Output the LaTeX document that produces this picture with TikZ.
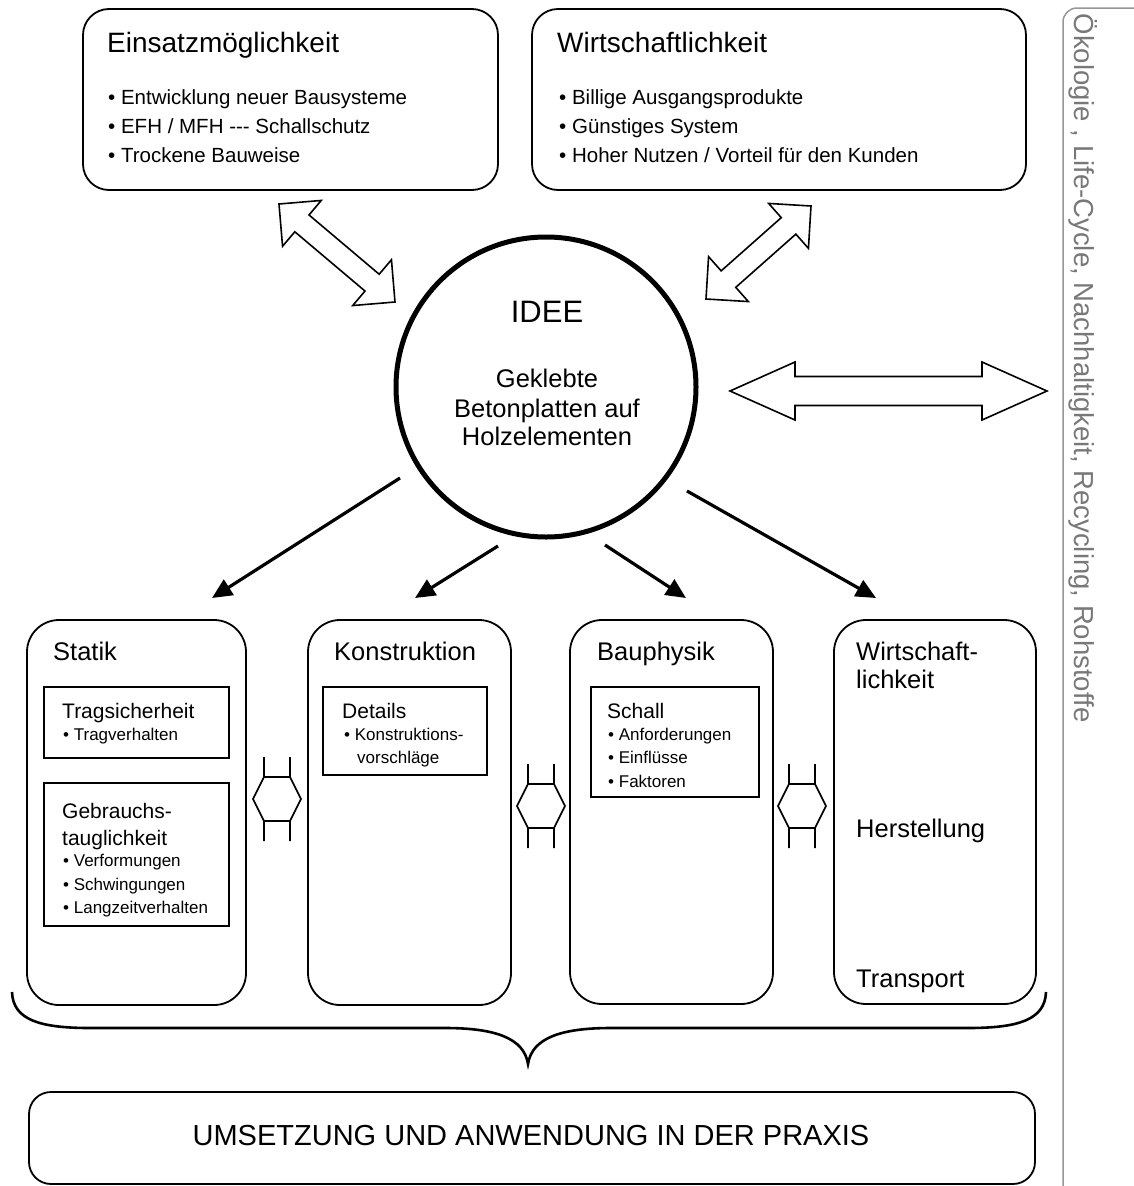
\documentclass[tikz,border=0pt]{standalone}
\usepackage{fontspec}
\setmainfont{Liberation Sans}
\usetikzlibrary{calc,arrows.meta}
\definecolor{ecogray}{RGB}{150,150,150}
\definecolor{ecotext}{RGB}{120,120,120}
\newcommand\fsz[1]{\fontsize{#1}{#1}\selectfont}
% hollow double arrow: #1 tip A, #2 tip B, #3 head length, #4 head half width, #5 shaft half width
\newcommand\hollowarrow[5]{%
\draw[hollowline] (#1)
 -- ($(#1)!#3!(#2)!#4!90:(#2)$)
 -- ($(#1)!#3!(#2)!#5!90:(#2)$)
 -- ($(#2)!#3!(#1)!#5!-90:(#1)$)
 -- ($(#2)!#3!(#1)!#4!-90:(#1)$)
 -- (#2)
 -- ($(#2)!#3!(#1)!#4!90:(#1)$)
 -- ($(#2)!#3!(#1)!#5!90:(#1)$)
 -- ($(#1)!#3!(#2)!#5!-90:(#2)$)
 -- ($(#1)!#3!(#2)!#4!-90:(#2)$)
 -- cycle;}
\begin{document}
\begin{tikzpicture}[x=1pt,y=-1pt,
  bigbox/.style={draw, line width=1.8pt, rounded corners=26pt, inner sep=0pt},
  colbox/.style={draw, line width=1.8pt, rounded corners=32pt, inner sep=0pt},
  subbox/.style={draw, line width=1.8pt, inner sep=0pt},
  txt/.style={anchor=base west, inner sep=0pt},
  ctxt/.style={anchor=base, inner sep=0pt},
  hollowline/.style={draw, line width=1.6pt, line join=miter},
  conn/.style={line width=3.2pt, -{Triangle[length=20pt,width=18pt]}},
  smallda/.pic={
    \draw[line width=1.6pt] (-13,-42) -- (-13,-22) -- (-24,0) -- (-13,22) -- (-13,42);
    \draw[line width=1.6pt] (13,-42) -- (13,-22) -- (24,0) -- (13,22) -- (13,42);
    \draw[line width=1.6pt] (-13,-22) -- (13,-22);
    \draw[line width=1.6pt] (-13,22) -- (13,22);
  }]
\useasboundingbox (0,0) rectangle (1134,1186);

% ---- top boxes
\node[bigbox, minimum width=415pt, minimum height=181pt] (einsatz) at (290.5,99.5) {};
\node[bigbox, minimum width=494pt, minimum height=181pt] (wirt) at (779,99.5) {};

\node[txt] (t1) at (107,52) {\fsz{28}Einsatzmöglichkeit};
\node[txt] (t1a) at (108,104) {\fsz{20.5}• Entwicklung neuer Bausysteme};
\node[txt] (t1b) at (108,133) {\fsz{20.5}• EFH / MFH -{}-{}- Schallschutz};
\node[txt] (t1c) at (108,162) {\fsz{20.5}• Trockene Bauweise};

\node[txt] (t2) at (557,52) {\fsz{28}Wirtschaftlichkeit};
\node[txt] (t2a) at (559,104) {\fsz{20.5}• Billige Ausgangsprodukte};
\node[txt] (t2b) at (559,133) {\fsz{20.5}• Günstiges System};
\node[txt] (t2c) at (559,162) {\fsz{20.5}• Hoher Nutzen / Vorteil für den Kunden};

% ---- gray side frame
\draw[ecogray, line width=1.5pt, rounded corners=14pt] (1063,1186) -- (1063,8) -- (1134,8);
\node[rotate=-90, text=ecotext, inner sep=0pt] (ecotxt) at (1083,368)
  {\fsz{27.5}Ökologie , Life-Cycle, Nachhaltigkeit, Recycling, Rohstoffe};

% ---- circle
\node[draw, circle, line width=5pt, minimum size=300pt, inner sep=0pt] (idee) at (546,387) {};
\node[ctxt] (ideet) at (547,322) {\fsz{31}IDEE};
\node[ctxt] (idee1) at (547,387) {\fsz{25.5}Geklebte};
\node[ctxt] (idee2) at (547,417) {\fsz{25.5}Betonplatten auf};
\node[ctxt] (idee3) at (547,445) {\fsz{25.5}Holzelementen};

% ---- hollow double arrows
\coordinate (h1a) at (279,204);
\coordinate (h1b) at (395,302);
\coordinate (h2a) at (706,299);
\coordinate (h2b) at (811,206);
\coordinate (h3a) at (730,391);
\coordinate (h3b) at (1047,391);
\hollowarrow{h1a}{h1b}{30pt}{30pt}{11pt}
\hollowarrow{h2a}{h2b}{30pt}{30pt}{11pt}
\hollowarrow{h3a}{h3b}{65pt}{29pt}{14.5pt}

% ---- bottom columns
\node[colbox, minimum width=219pt, minimum height=385pt] (statik) at (136.5,812.5) {};
\node[colbox, minimum width=203pt, minimum height=385pt] (konst) at (409.5,812.5) {};
\node[colbox, minimum width=203pt, minimum height=384pt] (bauph) at (671.5,812) {};
\node[colbox, minimum width=202pt, minimum height=384pt] (wirt2) at (935,812) {};

\node[txt] (s0) at (53,660) {\fsz{25.5}Statik};
\node[txt] (k0) at (334,660) {\fsz{25.5}Konstruktion};
\node[txt] (b0) at (597,660) {\fsz{25.5}Bauphysik};
\node[txt] (w0) at (856,660) {\fsz{25.5}Wirtschaft-};
\node[txt] (w1) at (856,688) {\fsz{25.5}lichkeit};
\node[txt] (w2) at (856,837) {\fsz{25.5}Herstellung};
\node[txt] (w3) at (856,987) {\fsz{25.5}Transport};

% sub boxes
\node[subbox, minimum width=185pt, minimum height=71pt] (trag) at (136.5,722.5) {};
\node[subbox, minimum width=185pt, minimum height=143pt] (gebr) at (136.5,854.5) {};
\node[subbox, minimum width=164pt, minimum height=88pt] (det) at (405,731) {};
\node[subbox, minimum width=168pt, minimum height=110pt] (schall) at (675,742) {};

\node[txt] (tr0) at (62,718) {\fsz{21}Tragsicherheit};
\node[txt] (tr1) at (63,740) {\fsz{17}• Tragverhalten};
\node[txt] (g0) at (62,818) {\fsz{21}Gebrauchs-};
\node[txt] (g1) at (62,845) {\fsz{21}tauglichkeit};
\node[txt] (g2) at (63,866) {\fsz{17}• Verformungen};
\node[txt] (g3) at (63,890) {\fsz{17}• Schwingungen};
\node[txt] (g4) at (63,913) {\fsz{17}• Langzeitverhalten};

\node[txt] (d0) at (342,718) {\fsz{21}Details};
\node[txt] (d1) at (344,740) {\fsz{17}• Konstruktions-};
\node[txt] (d2) at (357,763) {\fsz{17}vorschläge};

\node[txt] (sc0) at (607,718) {\fsz{21}Schall};
\node[txt] (sc1) at (608,740) {\fsz{17}• Anforderungen};
\node[txt] (sc2) at (608,763) {\fsz{17}• Einflüsse};
\node[txt] (sc3) at (608,787) {\fsz{17}• Faktoren};

% small double arrows between columns
\pic (sda1) at (277,799) {smallda};
\pic (sda2) at (541,806) {smallda};
\pic (sda3) at (802,806) {smallda};

% ---- arrows from the idea
\coordinate (c1s) at (400,478);
\coordinate (c1e) at (212,598);
\coordinate (c2s) at (498,546);
\coordinate (c2e) at (415,598);
\coordinate (c3s) at (605,545);
\coordinate (c3e) at (686,598);
\coordinate (c4s) at (687,491);
\coordinate (c4e) at (876,598);
\draw[conn] (c1s) -- (c1e);
\draw[conn] (c2s) -- (c2e);
\draw[conn] (c3s) -- (c3e);
\draw[conn] (c4s) -- (c4e);

% ---- brace
\draw[line width=2.6pt] (12,992) .. controls (13,1020) and (40,1028) .. (90,1028)
  -- (445,1028) .. controls (495,1028) and (524,1038) .. (528,1064)
  .. controls (532,1038) and (561,1028) .. (611,1028)
  -- (968,1028) .. controls (1018,1028) and (1045,1020) .. (1046,992);

% ---- practice box
\node[draw, line width=1.8pt, rounded corners=22pt, inner sep=0pt,
      minimum width=1006pt, minimum height=92pt] (praxis) at (532,1138) {};
\node[ctxt] (praxist) at (531,1145) {\fsz{29}UMSETZUNG UND ANWENDUNG IN DER PRAXIS};
\end{tikzpicture}
\end{document}
